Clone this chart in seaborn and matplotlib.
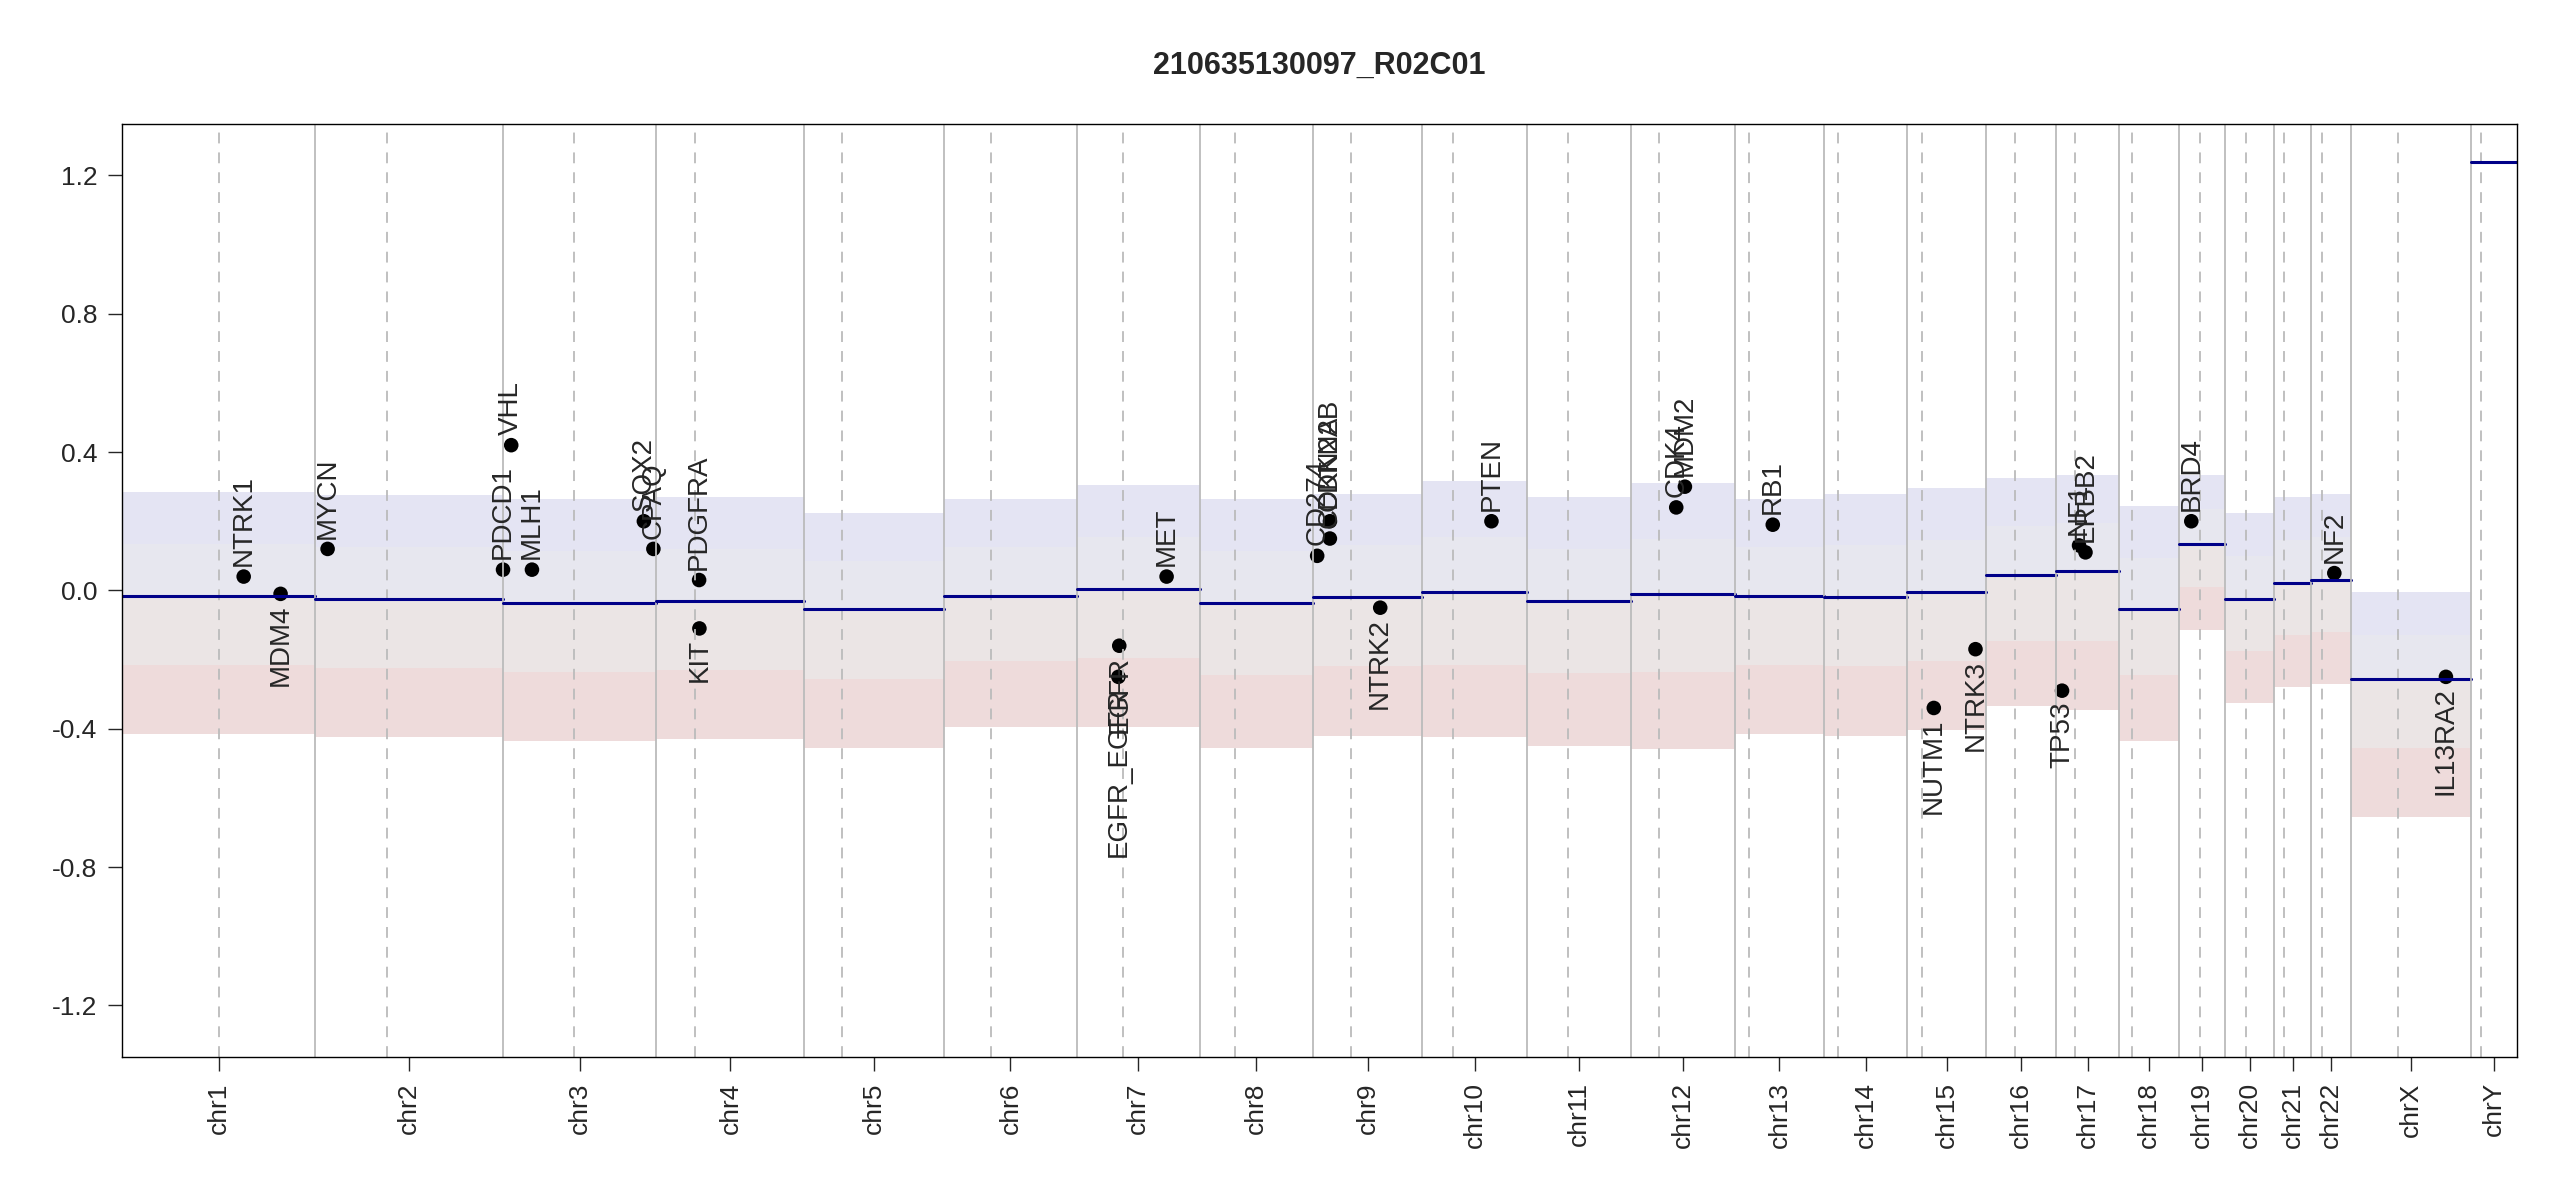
import numpy as np
import pandas as pd
import matplotlib
matplotlib.use("Agg")
import matplotlib.pyplot as plt
import seaborn as sns

chroms = ["chr%d" % i for i in range(1, 23)] + ["chrX", "chrY"]
chrom_len = [249.3, 243.2, 198.0, 191.2, 180.9, 171.1, 159.1, 146.4, 141.2, 135.5, 135.0,
             133.9, 115.2, 107.3, 102.5, 90.4, 81.2, 78.1, 59.1, 63.0, 48.1, 51.3, 155.3, 59.4]
centromere = [125.0, 93.3, 91.0, 50.4, 48.4, 61.0, 59.9, 45.6, 49.0, 40.2, 53.7, 35.8,
              17.9, 17.6, 19.0, 36.6, 24.0, 17.2, 26.5, 27.5, 13.2, 14.7, 60.6, 12.5]
segment = [-0.015, -0.025, -0.035, -0.03, -0.055, -0.015, 0.005, -0.035, -0.02, -0.005,
           -0.03, -0.01, -0.015, -0.02, -0.005, 0.045, 0.055, -0.055, 0.135, -0.025,
           0.02, 0.03, -0.255, 1.24]
# rough spread of the probe cloud around each segment
spread_up = [0.3, 0.3, 0.3, 0.3, 0.28, 0.28, 0.3, 0.3, 0.3, 0.32, 0.3, 0.32, 0.28, 0.3,
             0.3, 0.28, 0.28, 0.3, 0.2, 0.25, 0.25, 0.25, 0.25, 0.0]
spread_dn = [0.4, 0.4, 0.4, 0.4, 0.4, 0.38, 0.4, 0.42, 0.4, 0.42, 0.42, 0.45, 0.4, 0.4,
             0.4, 0.38, 0.4, 0.38, 0.25, 0.3, 0.3, 0.3, 0.4, 0.0]

gene_name = ["NTRK1", "MDM4", "MYCN", "PDCD1", "VHL", "MLH1", "SOX2", "CPAQ", "PDGFRA", "KIT",
             "EGFR", "EGFR_EGFR", "MET", "CD274", "CDKN2A", "CDKN2B", "NTRK2", "PTEN", "CDK4",
             "MDM2", "RB1", "NUTM1", "NTRK3", "TP53", "NF1", "ERBB2", "BRD4", "NF2", "IL13RA2"]
gene_chrom = ["chr1", "chr1", "chr2", "chr2", "chr3", "chr3", "chr3", "chr3", "chr4", "chr4",
              "chr7", "chr7", "chr7", "chr9", "chr9", "chr9", "chr9", "chr10", "chr12",
              "chr12", "chr13", "chr15", "chr15", "chr17", "chr17", "chr17", "chr19", "chr22", "chrX"]
gene_pos = [156.8, 204.5, 16.0, 242.8, 10.2, 37.0, 181.7, 194.0, 55.1, 55.5,
            55.1, 54.0, 116.3, 5.5, 21.9, 22.0, 87.0, 89.6, 58.0,
            69.2, 48.9, 34.6, 88.5, 7.5, 29.5, 37.8, 15.3, 30.0, 123.0]
gene_val = [0.04, -0.01, 0.12, 0.06, 0.42, 0.06, 0.2, 0.12, 0.03, -0.11,
            -0.16, -0.25, 0.04, 0.1, 0.15, 0.2, -0.05, 0.2, 0.24,
            0.3, 0.19, -0.34, -0.17, -0.29, 0.13, 0.11, 0.2, 0.05, -0.25]
gene_above = [True, False, True, True, True, True, True, True, True, False,
              False, False, True, True, True, True, False, True, True,
              True, True, False, False, False, True, True, True, True, False]

offset = np.concatenate([[0], np.cumsum(chrom_len)[:-1]])
start = dict(zip(chroms, offset))
total = sum(chrom_len)

genes = pd.DataFrame({"gene": gene_name, "chrom": gene_chrom, "pos": gene_pos,
                      "val": gene_val, "above": gene_above})
genes["x"] = genes["pos"] + genes["chrom"].map(start)

sns.set_style("white")
plt.rcParams["font.family"] = ["Liberation Sans", "DejaVu Sans"]

fig = plt.figure(figsize=(25.5, 12), dpi=100)
ax = fig.add_axes([0.048, 0.119, 0.939, 0.778])

for i, c in enumerate(chroms):
    x0, x1 = offset[i], offset[i] + chrom_len[i]
    s = segment[i]
    if spread_up[i] > 0:
        ax.fill_between([x0, x1], s, s + spread_up[i] * 0.5, color="#d0d0e0", alpha=0.5, lw=0)
        ax.fill_between([x0, x1], s + spread_up[i] * 0.5, s + spread_up[i], color="#a8a8d8", alpha=0.3, lw=0)
        ax.fill_between([x0, x1], s - spread_dn[i] * 0.5, s, color="#d8cccc", alpha=0.5, lw=0)
        ax.fill_between([x0, x1], s - spread_dn[i], s - spread_dn[i] * 0.5, color="#c88888", alpha=0.3, lw=0)
    if i > 0:
        ax.axvline(x0, color="#bbbbbb", lw=1.3)
    ax.axvline(x0 + centromere[i], color="#bbbbbb", lw=1.3, ls=(0, (6, 5)))
    ax.plot([x0, x1], [s, s], color="#000088", lw=2.2)

sns.scatterplot(data=genes, x="x", y="val", color="black", s=110, edgecolor="none",
                legend=False, ax=ax)
for _, g in genes.iterrows():
    if g["above"]:
        ax.text(g["x"], g["val"] + 0.03, g["gene"], rotation=90, ha="center", va="bottom", fontsize=20)
    else:
        ax.text(g["x"], g["val"] - 0.03, g["gene"], rotation=90, ha="center", va="top", fontsize=20)

ax.set_xlim(0, total)
ax.set_ylim(-1.35, 1.35)
ax.set_yticks([-1.2, -0.8, -0.4, 0.0, 0.4, 0.8, 1.2])
ax.set_yticklabels(["-1.2", "-0.8", "-0.4", "0.0", "0.4", "0.8", "1.2"])
ax.set_xticks(offset + np.array(chrom_len) / 2)
ax.set_xticklabels(chroms, rotation=90)
ax.tick_params(axis="both", labelsize=19, length=10, width=1, direction="out",
               bottom=True, left=True, pad=8)
ax.set_xlabel("")
ax.set_ylabel("")
for sp in ax.spines.values():
    sp.set_color("black")
    sp.set_linewidth(1)
ax.set_title("210635130097_R02C01", fontsize=22, fontweight="bold", pad=36)

fig.savefig("out.png", dpi=100)
